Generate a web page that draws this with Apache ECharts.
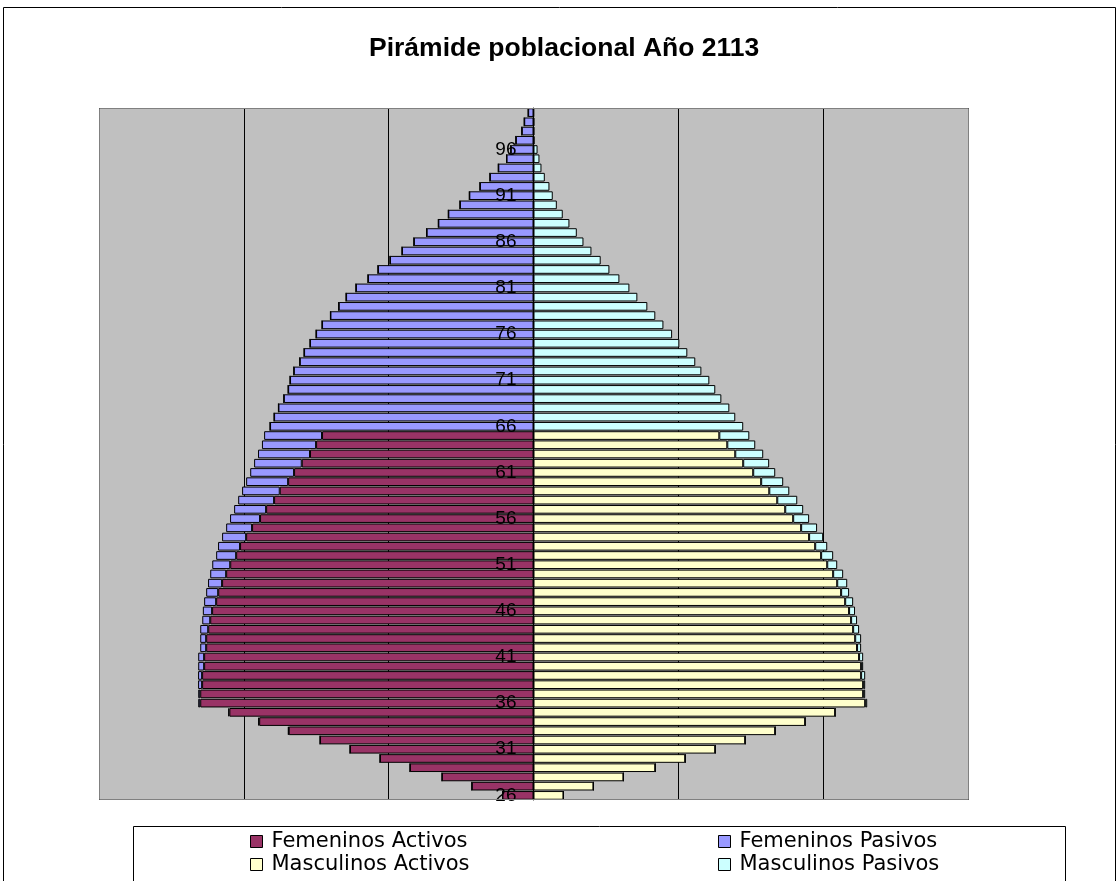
<!DOCTYPE html>
<html lang="es">
<head>
<meta charset="UTF-8">
<title>Pirámide poblacional Año 2113</title>
<script src="https://cdn.jsdelivr.net/npm/echarts@6/dist/echarts.min.js"></script>
<style>
  body { margin: 0; padding: 0; background: #fff; overflow: hidden; }
  #chart { width: 1119px; height: 881px; }
</style>
</head>
<body>
<div id="chart"></div>
<script>
// edades 26 .. 100 (de abajo hacia arriba)
var edades = [];
for (var a = 26; a <= 100; a++) edades.push(String(a));

// valores (misma escala para ambos lados)
var femActivos = [
  21.4, 42.6, 63.2, 85.3, 106.0, 126.7, 147.4, 169.0, 189.4, 210.0,
  230.1, 230.1, 228.8, 228.8, 227.4, 227.4, 226.0, 226.0, 224.6, 223.2,
  221.9, 219.1, 217.7, 215.0, 212.2, 209.4, 205.3, 202.6, 198.4, 194.3,
  188.8, 184.6, 179.1, 175.2, 169.4, 165.3, 160.0, 154.3, 150.1, 146.0,
  0, 0, 0, 0, 0, 0, 0, 0, 0, 0,
  0, 0, 0, 0, 0, 0, 0, 0, 0, 0,
  0, 0, 0, 0, 0, 0, 0, 0, 0, 0,
  0, 0, 0, 0, 0
];
var femPasivos = [
  0, 0, 0, 0, 0, 0, 0, 0.5, 0.7, 0.8,
  1.4, 1.4, 2.8, 2.8, 4.1, 4.1, 4.1, 4.1, 5.5, 5.5,
  6.4, 8.3, 8.3, 9.7, 11.0, 12.4, 13.8, 15.2, 16.6, 17.9,
  20.7, 22.1, 24.8, 26.0, 29.0, 30.3, 32.9, 35.9, 37.4, 40.0,
  181.9, 179.1, 176.1, 172.4, 169.4, 168.1, 165.5, 161.4, 158.4, 154.3,
  150.1, 146.0, 140.2, 134.5, 129.4, 122.6, 114.3, 107.4, 99.1, 90.8,
  82.6, 73.8, 65.7, 58.8, 50.8, 44.3, 37.0, 30.1, 24.3, 18.6,
  15.7, 12.2, 8.1, 6.4, 3.7
];
var mascActivos = [
  20.7, 41.4, 62.1, 84.1, 104.8, 125.5, 146.2, 166.9, 187.6, 208.3,
  229.0, 227.6, 227.6, 226.2, 226.2, 224.8, 223.4, 222.1, 220.7, 219.3,
  217.9, 215.2, 212.4, 209.7, 206.9, 202.8, 198.6, 194.5, 190.3, 184.8,
  179.3, 173.8, 168.3, 162.8, 157.2, 151.7, 144.8, 139.3, 133.8, 128.3,
  0, 0, 0, 0, 0, 0, 0, 0, 0, 0,
  0, 0, 0, 0, 0, 0, 0, 0, 0, 0,
  0, 0, 0, 0, 0, 0, 0, 0, 0, 0,
  0, 0, 0, 0, 0
];
var mascPasivos = [
  0, 0, 0, 0, 0, 0, 0, 0, 0, 0,
  1.4, 1.4, 1.4, 2.8, 1.4, 2.8, 2.8, 4.1, 4.1, 4.1,
  4.1, 5.5, 5.5, 6.9, 6.9, 6.9, 8.3, 8.3, 9.7, 11.0,
  11.0, 12.4, 13.8, 13.8, 15.2, 15.2, 17.9, 19.3, 19.3, 20.7,
  144.8, 139.3, 135.2, 129.7, 125.5, 121.4, 115.9, 111.7, 106.2, 100.7,
  95.7, 89.7, 84.1, 78.6, 71.7, 66.2, 59.3, 52.4, 46.4, 40.0,
  34.5, 29.9, 24.8, 20.2, 16.1, 13.3, 11.0, 7.8, 5.5, 4.1,
  2.8, 0.7, 0.5, 0.5, 0.3
];

var colores = {
  'Femeninos Activos': '#993366',
  'Femeninos Pasivos': '#9999FF',
  'Masculinos Activos': '#FFFFCC',
  'Masculinos Pasivos': '#CCFFFF'
};

function neg(arr) {
  return arr.map(function (v) { return -v; });
}

function serie(nombre, datos) {
  return {
    name: nombre,
    type: 'bar',
    stack: 'total',
    barCategoryGap: '6%',
    data: datos,
    itemStyle: { color: colores[nombre], borderColor: '#000', borderWidth: 1 }
  };
}

var legendText = { fontFamily: 'DejaVu Sans', fontSize: 21, color: '#000', lineHeight: 21, padding: [0, 0, 0, 4] };

var myChart = echarts.init(document.getElementById('chart'));
var option = {
  animation: false,
  backgroundColor: '#fff',
  title: {
    text: 'Pirámide poblacional Año 2113',
    left: 369,
    top: 36,
    padding: 0,
    textStyle: { fontFamily: 'Liberation Sans, Arial', fontSize: 26.5, fontWeight: 'bold', color: '#000', lineHeight: 26 }
  },
  legend: [
    {
      orient: 'vertical', left: 250, top: 831, padding: 0, itemGap: 2,
      itemWidth: 12, itemHeight: 12, icon: 'rect',
      data: ['Femeninos Activos', 'Masculinos Activos'],
      itemStyle: { borderColor: '#000', borderWidth: 1 },
      textStyle: legendText
    },
    {
      orient: 'vertical', left: 718, top: 831, padding: 0, itemGap: 2,
      itemWidth: 12, itemHeight: 12, icon: 'rect',
      data: ['Femeninos Pasivos', 'Masculinos Pasivos'],
      itemStyle: { borderColor: '#000', borderWidth: 1 },
      textStyle: legendText
    }
  ],
  grid: {
    left: 99, right: 151, top: 108, bottom: 81,
    show: true, backgroundColor: '#C0C0C0', borderWidth: 0
  },
  xAxis: {
    type: 'value',
    min: -300, max: 300, interval: 100,
    axisLabel: { show: false },
    axisTick: { show: false },
    axisLine: { show: false },
    splitLine: { show: true, lineStyle: { color: '#000', width: 1 } }
  },
  yAxis: {
    type: 'category',
    data: edades,
    z: 10,
    position: 'left',
    offset: -434.5,
    axisLine: { show: true, onZero: false, lineStyle: { color: '#000', width: 1 } },
    axisTick: { show: false },
    axisLabel: {
      interval: 4,
      margin: 17,
      fontFamily: 'Liberation Sans, Arial',
      fontSize: 19,
      color: '#000'
    }
  },
  graphic: [
    {
      type: 'rect', z: 100, silent: true,
      shape: { x: 99.5, y: 108.5, width: 869, height: 691 },
      style: { fill: 'none', stroke: '#808080', lineWidth: 1 }
    },
    {
      type: 'rect', z: 100, silent: true,
      shape: { x: 133.5, y: 826.5, width: 932, height: 80 },
      style: { fill: 'none', stroke: '#000', lineWidth: 1 }
    },
    {
      type: 'rect', z: 100, silent: true,
      shape: { x: 3.5, y: 7.5, width: 1112, height: 900 },
      style: { fill: 'none', stroke: '#000', lineWidth: 1 }
    }
  ],
  series: [
    serie('Femeninos Activos', neg(femActivos)),
    serie('Femeninos Pasivos', neg(femPasivos)),
    serie('Masculinos Activos', mascActivos),
    serie('Masculinos Pasivos', mascPasivos)
  ]
};
myChart.setOption(option);
</script>
</body>
</html>
